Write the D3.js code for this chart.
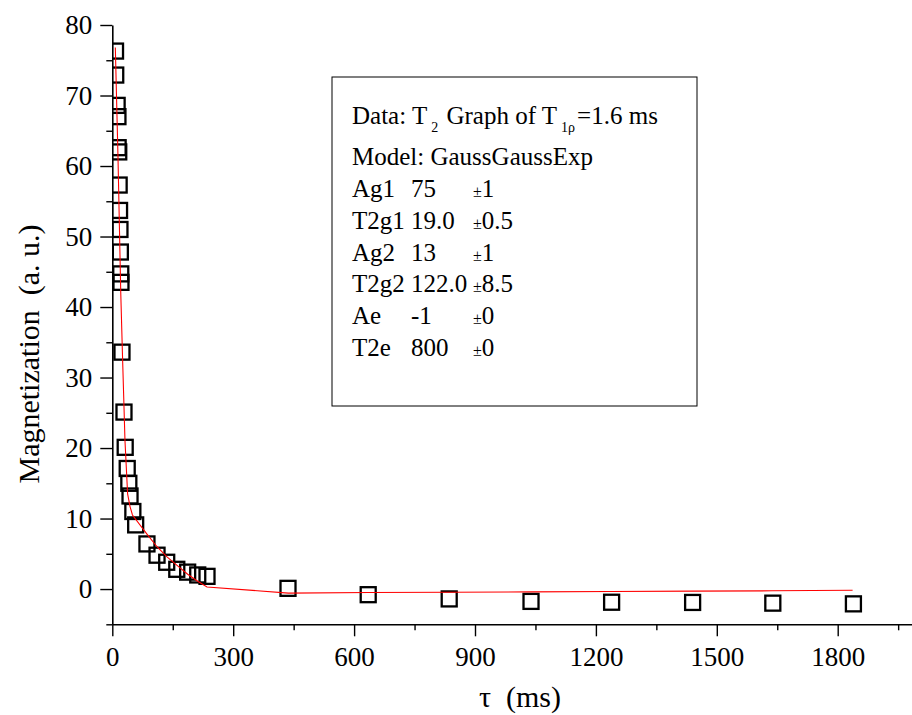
<!DOCTYPE html>
<html><head><meta charset="utf-8">
<script src="https://cdn.jsdelivr.net/npm/d3@7"></script>
<style>
body{margin:0;background:#fff}
svg{display:block}
text{font-family:"Liberation Serif","Times New Roman",serif;fill:#000}
</style>
</head><body>
<svg id="c" width="912" height="715"></svg>
<script>
// ---- data ----
const tau = [8, 8.5, 12, 14, 14.5, 16, 17, 18, 19, 20, 21, 21.5, 24, 29, 32, 37, 41, 44, 51, 58,
             86, 111, 135, 160, 187, 212, 235, 436, 635, 836, 1039, 1239, 1440, 1639, 1839];
const magnetization = [76.3, 72.9, 68.6, 67.0, 62.6, 62.0, 57.3, 53.7, 51.0, 47.8, 44.7, 43.5, 33.6, 25.1, 20.1, 17.1, 15.0, 13.2, 11.0, 9.1,
             6.4, 4.8, 3.8, 2.8, 2.4, 2.0, 1.8, 0.1, -0.8, -1.4, -1.75, -1.87, -1.9, -2.0, -2.1];
const fitTau = [7.5, 14, 21, 25, 31.5, 38, 44, 50, 86, 111, 135, 160, 187, 212, 235, 437, 637, 837, 1037, 1237, 1437, 1637, 1837];
const fitMag = [76.8, 61.6, 42, 33.7, 21, 13.5, 11.7, 10.5, 7.8, 6.0, 4.6, 3.4, 2.1, 1.1, 0.3, -0.58, -0.5, -0.45, -0.4, -0.35, -0.3, -0.25, -0.18];
const xTickValues = [0, 300, 600, 900, 1200, 1500, 1800];
const xMinorTickValues = [150, 450, 750, 1050, 1350, 1650, 1950];
const yTickValues = [0, 10, 20, 30, 40, 50, 60, 70, 80];
const yMinorTickValues = [-5, 5, 15, 25, 35, 45, 55, 65, 75];
const legendNames = ["Ag1", "T2g1", "Ag2", "T2g2", "Ae", "T2e"];
const legendValues = ["75", "19.0", "13", "122.0", "-1", "800"];
const legendErrors = ["1", "0.5", "1", "8.5", "0", "0"];
const xTitle = "\u03c4\u00a0\u00a0(ms)";
const yTitle = "Magnetization\u00a0\u00a0(a. u.)";

// ---- layout ----
const svg = d3.select("#c");
const x = d3.scaleLinear().domain([0, 2000]).range([112.3, 918.3]);
const y = d3.scaleLinear().domain([-5, 80]).range([624.3, 25]);
const FS = 27;

svg.append("defs").append("clipPath").attr("id", "plot")
  .append("rect").attr("x", x(0)).attr("y", 0).attr("width", 912 - x(0)).attr("height", y(-5));

// axes
const gx = svg.append("g").attr("transform", `translate(0,${y(-5)})`);
gx.call(d3.axisBottom(x).tickValues(xTickValues).tickSize(12).tickSizeOuter(0).tickPadding(11).tickFormat(d3.format("d")));
const gxm = svg.append("g").attr("transform", `translate(0,${y(-5)})`);
gxm.call(d3.axisBottom(x).tickValues(xMinorTickValues).tickSize(6).tickSizeOuter(0).tickFormat(""));
gxm.select(".domain").remove();

const gy = svg.append("g").attr("transform", `translate(${x(0)},0)`);
gy.call(d3.axisLeft(y).tickValues(yTickValues).tickSize(12).tickSizeOuter(0).tickPadding(8).tickFormat(d3.format("d")));
const gym = svg.append("g").attr("transform", `translate(${x(0)},0)`);
gym.call(d3.axisLeft(y).tickValues(yMinorTickValues).tickSize(6).tickSizeOuter(0).tickFormat(""));
gym.select(".domain").remove();

svg.selectAll(".domain").attr("stroke", "#000").attr("stroke-width", 1.6);
svg.selectAll(".tick line").attr("stroke", "#000").attr("stroke-width", 1.4);
svg.selectAll(".tick text").attr("font-size", FS).attr("font-family", '"Liberation Serif","Times New Roman",serif').attr("fill", "#000");

// axis titles
svg.append("text").attr("x", 520).attr("y", 707).attr("text-anchor", "middle")
  .attr("font-size", 30).text(xTitle);
svg.append("text").attr("transform", `translate(39,354) rotate(-90)`).attr("text-anchor", "middle")
  .attr("font-size", 30).text(yTitle);

// data
const plot = svg.append("g").attr("clip-path", "url(#plot)");
const pts = tau.map((t, i) => [t, magnetization[i]]);
const S = 15;
plot.selectAll("rect.pt").data(pts).join("rect").attr("class", "pt")
  .attr("x", d => x(d[0]) - S / 2).attr("y", d => y(d[1]) - S / 2)
  .attr("width", S).attr("height", S)
  .attr("fill", "none").attr("stroke", "#000").attr("stroke-width", 2.3);

const fit = fitTau.map((t, i) => [t, fitMag[i]]);
plot.append("path").datum(fit)
  .attr("d", d3.line().x(d => x(d[0])).y(d => y(d[1])))
  .attr("fill", "none").attr("stroke", "#ff0000").attr("stroke-width", 1.1);

// legend box
const lg = svg.append("g");
lg.append("rect").attr("x", 332).attr("y", 77).attr("width", 365).attr("height", 329)
  .attr("fill", "#fff").attr("stroke", "#000").attr("stroke-width", 1);
const LX = 352, C2 = 411, C3 = 473, LFS = 25;
const t1 = lg.append("text").attr("x", LX).attr("y", 124).attr("font-size", LFS);
t1.append("tspan").text("Data: T");
t1.append("tspan").attr("font-size", 14).attr("dx", 4).attr("dy", 8).text("2");
t1.append("tspan").attr("dx", 2).attr("dy", -8).text(" Graph of T");
t1.append("tspan").attr("font-size", 14).attr("dx", 4).attr("dy", 8).text("1\u03c1");
t1.append("tspan").attr("dx", 2).attr("dy", -8).text("=1.6 ms");
lg.append("text").attr("x", LX).attr("y", 165).attr("font-size", LFS).text("Model: GaussGaussExp");
legendNames.forEach((n, i) => {
  const by = 197 + i * 31.8;
  lg.append("text").attr("x", LX).attr("y", by).attr("font-size", LFS).text(n);
  const v = lg.append("text").attr("x", C2).attr("y", by).attr("font-size", LFS).text(legendValues[i]);
  const end = C2 + v.node().getComputedTextLength() + 1;
  const e = lg.append("text").attr("x", Math.max(C3, end)).attr("y", by).attr("font-size", LFS);
  e.append("tspan").attr("font-size", 16).text("\u00b1");
  e.append("tspan").text(legendErrors[i]);
});
</script>
</body></html>
